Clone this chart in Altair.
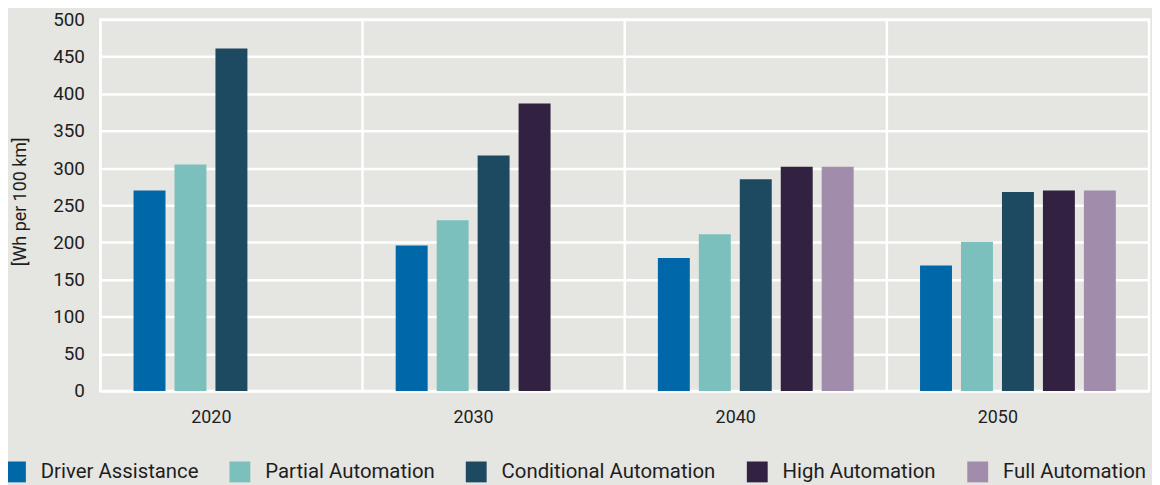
import altair as alt
import pandas as pd

years = ["2020", "2030", "2040", "2050"]
series = ["Driver Assistance", "Partial Automation", "Conditional Automation",
          "High Automation", "Full Automation"]
colors = ["#0068a8", "#7cc0bd", "#1d4961", "#322141", "#a28cab"]

driver_assistance = [270, 196, 179, 169]
partial_automation = [305, 230, 211, 201]
conditional_automation = [461, 317, 285, 268]
high_automation = [None, 387, 302, 270]
full_automation = [None, None, 302, 270]

values = [driver_assistance, partial_automation, conditional_automation,
          high_automation, full_automation]

rows = []
for s, vals in zip(series, values):
    for y, v in zip(years, vals):
        if v is not None:
            rows.append({"year": y, "series": s, "value": v})
df = pd.DataFrame(rows)
df_years = pd.DataFrame({"year": years})

font = "Roboto"
text_color = "#1e1e1e"

x_scale = alt.Scale(domain=years, paddingInner=0, paddingOuter=0)

bars = alt.Chart(df).mark_bar().encode(
    x=alt.X("year:N", scale=x_scale, sort=years,
            axis=alt.Axis(title=None, labelAngle=0, ticks=False, domain=False,
                          grid=False, labelFontSize=18, labelPadding=27,
                          labelColor=text_color, labelFont=font)),
    xOffset=alt.XOffset("series:N", sort=series,
                        scale=alt.Scale(domain=series, paddingInner=0.22, paddingOuter=0.81)),
    y=alt.Y("value:Q", scale=alt.Scale(domain=[0, 500], nice=False),
            axis=alt.Axis(title="[Wh per 100 km]", values=list(range(0, 501, 50)),
                          ticks=False, domain=False, grid=True, gridColor="white",
                          gridWidth=2.5, labelFontSize=19, labelPadding=16,
                          labelColor=text_color, labelFont=font,
                          titleFont=font, titleFontSize=18, titleFontWeight="normal",
                          titleColor=text_color, titleX=-80, titleY=183,
                          titleAngle=-90, titleAlign="center", titleBaseline="middle")),
    color=alt.Color("series:N", sort=series,
                    scale=alt.Scale(domain=series, range=colors),
                    legend=alt.Legend(title=None, orient="none", direction="horizontal",
                                      legendX=-96, legendY=445, columns=5,
                                      symbolType="square", symbolSize=441,
                                      symbolStrokeWidth=0, symbolOpacity=1,
                                      labelFontSize=20.5, labelFont=font,
                                      labelColor=text_color, labelOffset=15,
                                      columnPadding=31, padding=0, labelLimit=400)),
)

vlines = alt.Chart(df_years).mark_rule(color="white", strokeWidth=2.5).encode(
    x=alt.X("year:N", scale=x_scale, sort=years, bandPosition=0)
)

chart = alt.layer(vlines, bars).properties(
    width=1056, height=374,
    background="#e5e5e1",
    padding={"left": 93, "top": 10, "right": 3, "bottom": 93},
    autosize=alt.AutoSizeParams(type="none"),
).configure_view(
    stroke="white", strokeWidth=2.5, fill="#e5e5e1"
)

chart.save("out.html", embed_options={"renderer": "svg", "actions": False})
